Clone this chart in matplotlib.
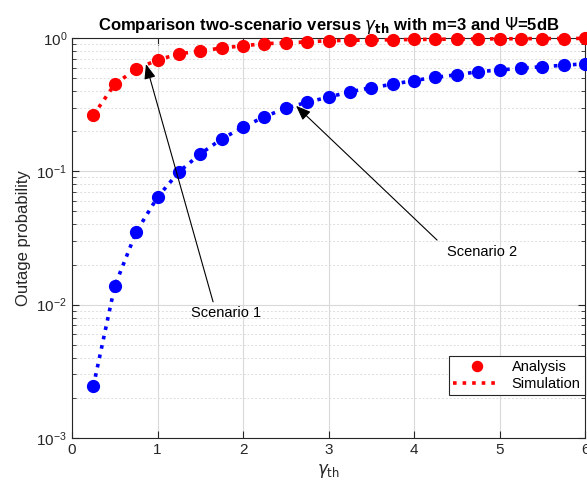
import matplotlib
matplotlib.use("Agg")
import matplotlib.pyplot as plt
import numpy as np

gamma_th = [0.25, 0.5, 0.75, 1.0, 1.25, 1.5, 1.75, 2.0, 2.25, 2.5, 2.75, 3.0,
            3.25, 3.5, 3.75, 4.0, 4.25, 4.5, 4.75, 5.0, 5.25, 5.5, 5.75, 6.0]
scenario1 = [0.264, 0.45, 0.585, 0.684, 0.76, 0.80, 0.84, 0.875, 0.906, 0.92, 0.935, 0.955,
             0.96, 0.966, 0.97, 0.975, 0.978, 0.981, 0.984, 0.986, 0.988, 0.99, 0.991, 0.993]
scenario2 = [0.00245, 0.0138, 0.035, 0.064, 0.099, 0.135, 0.175, 0.214, 0.257, 0.297, 0.33, 0.36,
             0.395, 0.424, 0.45, 0.48, 0.507, 0.53, 0.559, 0.575, 0.593, 0.61, 0.624, 0.641]

plt.rcParams['font.family'] = ['Liberation Sans', 'DejaVu Sans']
plt.rcParams['mathtext.fontset'] = 'dejavusans'

fig = plt.figure(figsize=(5.87, 4.94), dpi=100)
ax = fig.add_axes([72/587, 56/494, 513/587, 400/494])

ms = 8.5
lw = 2.6
ax.plot(gamma_th, scenario1, 'o', color='red', ms=ms, label='Analysis', clip_on=False, zorder=3)
ax.plot(gamma_th, scenario1, ':', color='red', lw=lw, label='Simulation', clip_on=False, zorder=3)
ax.plot(gamma_th, scenario2, 'o', color='blue', ms=ms, clip_on=False, zorder=3)
ax.plot(gamma_th, scenario2, ':', color='blue', lw=lw, clip_on=False, zorder=3)

ax.set_yscale('log')
ax.set_xlim(0, 6)
ax.set_ylim(1e-3, 1)
ax.set_xticks([0, 1, 2, 3, 4, 5, 6])

ax.grid(True, which='major', color='#d9d9d9', lw=0.8, ls='-')
ax.grid(True, which='minor', axis='y', color='#dddddd', lw=0.7, ls=(0, (2, 2)))
ax.set_axisbelow(True)
ax.tick_params(which='both', direction='in', top=True, right=True, labelsize=11, colors='#262626')
ax.tick_params(which='major', length=5)
ax.tick_params(which='minor', length=3)
for s in ax.spines.values():
    s.set_color('#262626')
    s.set_linewidth(0.8)

ax.set_title(r'Comparison two-scenario versus $\gamma_{\mathbf{th}}$ with m=3 and $\Psi$=5dB',
             fontsize=12, fontweight='bold', pad=6)
ax.set_xlabel(r'$\gamma_{\rm th}$', fontsize=12, color='#262626')
ax.set_ylabel('Outage probability', fontsize=12, color='#262626')

arrow = dict(arrowstyle='-|>,head_length=0.9,head_width=0.35', color='black', lw=0.8, shrinkA=0, shrinkB=0)
ax.annotate('', xy=(0.865, 0.638), xytext=(1.65, 0.0105), arrowprops=arrow)
ax.text(1.8, 0.0087, 'Scenario 1', fontsize=10.5, ha='center', va='center')
ax.annotate('', xy=(2.62, 0.31), xytext=(4.27, 0.0305), arrowprops=arrow)
ax.text(4.8, 0.025, 'Scenario 2', fontsize=10.5, ha='center', va='center')

leg = ax.legend(loc='lower right', bbox_to_anchor=(1.0, 0.107), fontsize=10.5, frameon=True,
                fancybox=False, edgecolor='#262626', framealpha=1, borderpad=0.3,
                handlelength=3.2, labelspacing=0.2, borderaxespad=0.0, markerscale=0.85)
leg.get_frame().set_linewidth(0.8)

fig.savefig('out.png', dpi=100)
